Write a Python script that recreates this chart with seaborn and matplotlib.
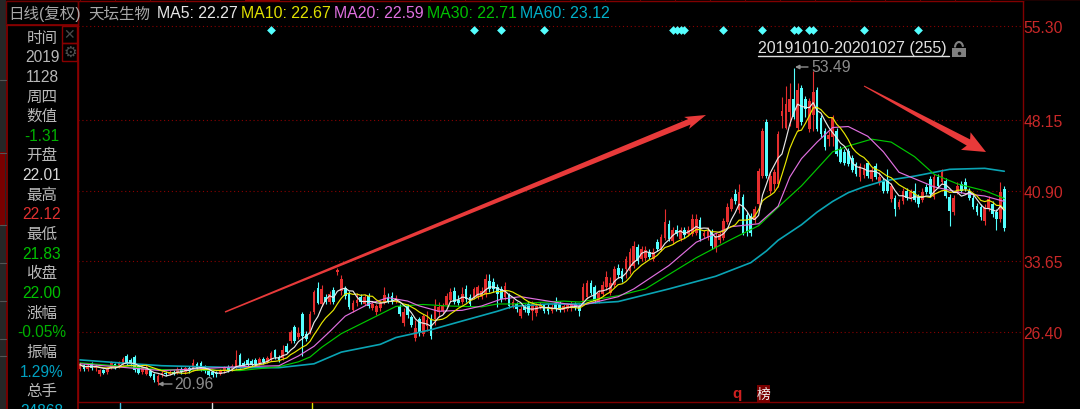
import numpy as np
import pandas as pd
import matplotlib
matplotlib.use("Agg")
import matplotlib.pyplot as plt
from matplotlib.patches import Rectangle, Polygon, Arc
import seaborn as sns

opens = [22.6,23.0,22.6,23.2,22.7,22.0,22.5,22.3,22.8,23.1,
 22.9,23.2,23.9,23.5,23.8,22.9,22.3,22.1,22.4,22.0,
 21.2,21.9,22.2,22.0,22.3,22.2,22.5,22.3,22.7,22.6,
 23.1,23.2,22.8,22.4,22.3,22.2,22.0,22.4,22.7,22.6,
 22.7,24.0,23.2,23.5,23.4,23.5,23.2,23.6,23.3,23.6,
 24.5,23.8,23.7,24.9,25.4,26.9,25.9,28.2,26.2,26.4,
 28.4,30.9,29.3,30.0,29.5,30.7,32.5,30.6,30.9,30.4,
 28.6,29.4,30.0,29.3,30.1,28.8,28.4,28.8,29.5,29.9,
 30.1,29.6,29.0,27.3,29.0,27.9,25.8,27.7,26.2,27.0,
 27.7,27.7,28.4,28.5,29.1,29.7,30.6,29.7,29.5,30.8,
 30.0,30.0,30.0,30.0,30.3,31.6,31.5,31.0,30.8,30.0,
 30.2,29.0,29.3,28.0,28.9,29.3,28.5,28.3,28.9,29.1,
 28.9,28.5,29.4,29.3,28.6,28.7,28.8,29.2,29.0,29.3,
 30.0,31.4,31.0,29.6,30.3,31.0,30.4,31.2,33.0,32.6,
 32.8,32.6,33.2,35.1,33.9,34.0,34.6,33.9,35.6,34.9,
 36.0,37.5,35.7,36.9,35.9,36.9,36.4,36.4,36.6,37.9,
 36.2,36.0,36.7,35.0,35.8,36.0,37.7,39.0,40.6,38.9,
 40.3,38.4,38.3,37.9,39.5,42.4,48.0,40.9,41.6,41.6,
 48.6,47.4,49.0,50.3,47.4,51.5,50.3,47.2,48.7,51.3,
 48.4,47.0,46.2,46.4,47.0,45.2,44.9,45.0,44.3,43.6,
 42.3,42.5,43.7,42.1,43.4,41.8,41.9,41.9,40.0,40.2,
 39.2,39.8,40.9,40.1,40.9,40.3,39.9,41.3,42.1,40.3,
 42.3,41.8,41.9,40.3,38.7,40.8,41.6,41.8,40.9,40.2,
 39.3,39.2,37.8,39.1,39.5,38.7,38.0,41.1]
closes = [23.0,22.6,22.9,22.7,22.9,22.5,22.2,22.6,23.2,22.8,
 23.2,23.6,23.2,23.1,22.5,22.2,22.8,22.8,21.8,21.4,
 21.8,22.2,22.0,22.3,22.1,22.6,22.3,22.7,22.4,23.2,
 22.7,22.6,22.4,21.9,21.9,22.0,22.4,22.7,22.5,22.9,
 23.5,22.9,22.9,23.0,23.0,23.1,23.6,23.3,23.7,24.2,
 23.8,23.5,24.5,24.3,26.4,25.4,26.3,26.0,25.7,28.2,
 30.5,29.4,30.8,29.5,30.3,29.5,32.7,31.8,30.1,28.9,
 29.4,29.7,29.5,30.0,29.0,29.3,29.0,29.4,30.2,29.6,
 29.5,29.9,28.2,28.4,28.1,27.1,26.8,26.4,28.0,27.6,
 26.0,29.0,28.9,29.0,30.1,30.5,29.5,29.4,30.3,29.8,
 29.3,30.8,31.0,30.6,31.8,30.8,30.8,30.3,29.8,31.1,
 29.0,29.5,28.7,28.7,28.6,28.3,29.3,29.0,29.2,28.5,
 28.5,28.9,28.8,28.7,29.0,29.1,29.2,28.9,28.5,31.0,
 31.4,30.4,29.6,30.4,31.2,32.0,31.4,32.8,32.2,31.8,
 33.9,34.6,35.2,33.7,34.9,34.8,34.1,34.6,34.9,36.1,
 37.7,35.9,36.9,36.4,36.9,36.3,36.9,38.0,38.0,35.9,
 36.5,36.8,35.2,36.2,36.4,37.8,39.2,40.0,39.8,40.8,
 36.6,36.8,36.5,39.0,42.9,47.0,42.4,42.4,42.8,46.7,
 49.1,49.8,50.3,48.5,51.3,48.0,49.3,50.1,51.1,47.2,
 46.7,45.4,46.6,48.4,44.7,43.9,43.8,43.6,43.0,42.6,
 43.4,43.2,42.4,43.0,42.3,42.3,40.9,40.9,41.4,39.0,
 39.7,40.9,40.1,40.8,39.9,39.5,40.8,40.8,40.6,42.3,
 41.4,42.8,40.4,38.8,40.2,41.4,40.9,41.1,40.1,39.2,
 38.7,38.2,39.2,40.0,38.5,38.0,40.8,37.1]
highs = [23.3,23.1,23.1,23.3,23.1,22.6,22.6,22.8,23.4,23.2,
 23.4,23.8,24.1,23.7,24.0,23.1,23.0,23.0,22.6,22.2,
 22.0,22.4,22.4,22.5,22.5,22.8,22.8,22.9,22.9,23.6,
 23.3,23.4,23.0,22.6,22.5,22.4,22.6,22.9,23.0,23.1,
 24.5,24.2,23.4,23.7,23.6,23.7,23.8,23.8,23.9,24.4,
 24.6,24.0,25.0,25.2,26.6,27.1,26.9,28.4,26.5,28.5,
 30.7,31.5,31.2,30.3,30.6,31.0,33.0,32.2,31.1,30.6,
 29.7,30.4,30.3,30.3,30.4,29.5,29.3,29.7,31.0,30.4,
 30.5,30.2,29.3,28.8,29.2,28.1,27.6,27.9,28.2,28.5,
 28.2,29.8,29.5,29.4,30.4,30.9,31.0,30.2,31.0,31.2,
 30.3,31.0,31.2,31.0,32.3,32.3,31.9,31.3,31.1,31.5,
 30.4,29.8,29.5,29.0,29.2,29.6,29.6,29.4,29.5,29.3,
 29.2,29.2,30.0,29.6,29.3,29.4,29.6,29.5,29.2,31.4,
 31.7,31.7,31.2,30.7,31.6,32.6,32.0,33.2,33.4,32.9,
 34.2,35.0,35.7,35.4,35.2,35.2,34.9,35.0,35.9,36.4,
 39.0,37.9,37.2,37.4,37.2,37.2,37.3,38.5,38.5,38.2,
 36.9,37.2,37.0,36.5,36.7,38.1,39.6,40.3,41.1,41.6,
 40.6,38.7,38.6,39.3,43.2,47.3,48.3,42.7,43.1,47.0,
 50.5,51.7,52.0,53.49,52.0,51.8,50.6,50.4,53.2,51.6,
 48.7,47.3,47.0,48.7,47.3,45.5,45.2,45.3,44.6,43.9,
 43.7,43.6,44.0,43.3,43.7,42.8,42.2,43.1,41.7,40.5,
 40.0,41.2,41.2,41.1,41.7,40.6,41.2,41.6,42.4,42.6,
 42.6,43.1,42.2,40.6,40.5,41.8,41.9,42.2,41.2,40.5,
 39.6,39.5,39.5,40.4,39.8,39.0,41.8,41.4]
lows = [22.4,22.4,22.4,22.5,22.4,21.8,22.0,22.1,22.6,22.6,
 22.7,23.0,23.0,22.9,22.3,22.1,22.1,21.9,21.7,21.2,
 20.96,21.7,21.8,21.9,21.9,22.0,22.1,22.1,22.2,22.4,
 22.5,22.4,22.2,21.8,21.7,21.7,21.9,22.2,22.3,22.4,
 22.5,22.7,22.7,22.8,22.8,22.9,23.0,23.1,23.2,23.4,
 23.6,23.3,23.5,24.2,25.2,25.2,25.7,23.9,25.4,26.2,
 28.2,29.2,29.0,29.2,29.2,29.3,32.2,30.2,29.8,28.7,
 28.4,29.0,29.3,29.1,28.8,28.6,28.1,28.5,29.2,29.4,
 29.3,29.4,28.0,27.0,27.8,26.9,25.4,26.0,26.0,26.5,
 25.7,27.1,27.9,28.2,28.9,29.5,29.3,29.1,29.2,29.5,
 29.0,29.8,29.8,29.8,30.0,30.5,30.5,28.9,29.5,29.7,
 28.8,28.8,28.4,27.8,28.4,28.1,27.6,28.0,28.7,28.3,
 28.2,28.3,28.5,28.4,28.4,28.5,28.5,28.6,28.0,29.1,
 29.8,30.2,29.4,29.4,30.1,30.7,30.2,31.0,31.9,31.5,
 31.9,32.3,33.0,33.4,33.7,33.7,33.9,33.7,34.7,34.7,
 35.8,35.7,35.4,36.2,35.7,36.0,36.2,36.2,36.3,35.7,
 36.0,35.8,34.9,34.6,35.5,35.8,37.5,38.8,39.5,38.6,
 36.3,36.2,36.2,37.6,39.2,42.2,42.2,40.6,41.0,41.3,
 47.4,47.2,47.6,48.3,47.0,47.7,48.5,46.9,47.0,47.0,
 46.4,45.1,45.5,45.5,44.5,43.7,43.5,43.4,42.8,42.4,
 41.9,42.2,42.2,41.9,42.1,41.5,40.7,40.7,39.7,38.3,
 39.0,39.5,39.9,39.8,39.7,39.2,39.7,40.6,40.3,40.0,
 41.2,41.6,40.2,37.3,38.4,40.6,40.7,40.9,39.9,39.0,
 38.4,37.9,37.4,38.8,38.2,36.9,37.7,36.8]

ma20_days = [0,21,41,51,56,60,64,68,74,79,84,87,92,98,103,108,113,120,128,138,142,151,158,167,174,179,182,185,189,193,197,202,206,210,219,227,232,237]
ma20_vals = [23.1,22.4,22.8,22.9,23.9,24.9,26.4,28.0,29.25,29.9,29.55,29.05,28.5,28.6,29.05,29.75,30.0,29.55,29.05,30.0,30.8,33.2,35.6,37.2,37.5,39.3,42.3,44.2,45.9,47.4,47.5,46.5,44.9,42.8,41.3,40.6,40.35,39.8]
ma30_days = [0,21,41,51,56,59,62,67,73,77,81,88,94,103,107,111,124,128,138,145,158,167,174,179,185,193,197,203,208,214,219,225,232,237]
ma30_vals = [23.2,22.5,22.4,22.8,23.3,23.8,24.8,26.2,27.4,28.2,29.0,29.2,29.05,28.95,29.25,29.25,29.55,29.45,30.1,30.8,34.0,35.9,37.3,39.2,41.4,44.9,45.5,46.2,45.9,44.4,42.6,41.6,40.9,40.1]
ma60_days = [0,10,21,41,51,60,67,77,81,90,98,107,111,120,128,138,151,163,172,176,179,182,185,189,193,197,201,206,214,223,232,237]
ma60_vals = [23.5,23.2,22.9,22.7,22.7,23.1,24.3,25.1,25.8,26.6,27.5,28.5,29.0,29.25,29.25,29.5,30.8,32.1,33.5,34.7,35.8,36.6,37.4,38.7,39.8,40.7,41.3,41.9,42.4,43.1,43.2,42.9]

signal_days = [49,101,108,119,152,153,154,155,165,175,183,184,187,188,201,215]
tick_levels = [57.84,48.15,40.90,33.65,26.40]
tick_labels = ["55.30","48.15","40.90","33.65","26.40"]

header_items = [("MA5: 22.27","#e6e6e6"),("MA10: 22.67","#e0e000"),("MA20: 22.59","#e070e0"),("MA30: 22.71","#00c000"),("MA60: 23.12","#00b0c8")]
panel_labels = ["时间","2019","1128","周四","数值","-1.31","开盘","22.01","最高","22.12","最低","21.83","收盘","22.00","涨幅","-0.05%","振幅","1.29%","总手","24868"]
panel_colors = ["#b8b8b8","#b8b8b8","#b8b8b8","#b8b8b8","#b8b8b8","#00b000","#b8b8b8","#d8d8d8","#b8b8b8","#e03030","#b8b8b8","#00c000","#b8b8b8","#00c000","#b8b8b8","#00b000","#b8b8b8","#00a0c0","#b8b8b8","#00b0d0"]

UP = "#e62e2e"; DOWN = "#54ffff"; FONT = ["Liberation Sans","Noto Sans CJK SC","DejaVu Sans"]
sns.set_theme(style="dark", rc={"axes.facecolor":"black","figure.facecolor":"black"})
plt.rcParams["font.family"] = FONT

W, H = 1080, 410
fig = plt.figure(figsize=(W/100, H/100), dpi=100)
ax = fig.add_axes([78/W, (H-403)/H, 945/W, 401/H])
ax.set_facecolor("black")

days = np.arange(len(closes))
o, c, hi, lo = map(np.asarray, (opens, closes, highs, lows))
colors = np.where(c >= o, UP, DOWN)
ax.vlines(days, lo, hi, colors=colors, lw=.8, zorder=2)
ax.bar(days, np.maximum(np.abs(c-o), .08), bottom=np.minimum(o, c), width=.7, color=colors, lw=0, zorder=2)

close_s = pd.Series(closes)
parts = [
    pd.DataFrame({"day":ma60_days,"price":ma60_vals,"line":"MA60"}),
    pd.DataFrame({"day":ma30_days,"price":ma30_vals,"line":"MA30"}),
    pd.DataFrame({"day":ma20_days,"price":ma20_vals,"line":"MA20"}),
    pd.DataFrame({"day":days,"price":close_s.rolling(10,min_periods=1).mean(),"line":"MA10"}),
    pd.DataFrame({"day":days,"price":close_s.rolling(5,min_periods=1).mean(),"line":"MA5"}),
]
lines = pd.concat(parts, ignore_index=True)
sns.lineplot(data=lines, x="day", y="price", hue="line", size="line", estimator=None, sort=False, legend=False, ax=ax,
             palette={"MA5":"#e8e8e8","MA10":"#e8e800","MA20":"#e070e0","MA30":"#00c800","MA60":"#0aa4b4"},
             sizes={"MA5":.85,"MA10":.85,"MA20":.85,"MA30":.85,"MA60":1.2},
             hue_order=["MA60","MA30","MA20","MA10","MA5"], zorder=3)

sns.scatterplot(x=signal_days, y=[57.4]*len(signal_days), marker="D", s=20, color="#54ffff", lw=0, ax=ax, zorder=4, legend=False)

ax.set_xlim(-0.513, 241.8)
ax.set_ylim(19.17, 60.41)
ax.set_xticks([]); ax.set_xlabel(""); ax.set_ylabel("")
ax.yaxis.tick_right()
ax.set_yticks(tick_levels, tick_labels)
ax.tick_params(axis="y", length=0, pad=0.5, labelcolor="#c82828", labelsize=11.3)
ax.grid(False)
for lv in tick_levels:
    ax.axhline(lv, color="#8a0000", lw=.8, ls=(0,(1,2.5)), zorder=1)
for s in ax.spines.values():
    s.set_color("#800000"); s.set_linewidth(1); s.set_visible(True)

# pixel-space overlay for the terminal chrome
fa = fig.add_axes([0,0,1,1], zorder=5)
fa.set_xlim(0,W); fa.set_ylim(H,0); fa.axis("off"); fa.patch.set_alpha(0)

def txt(x, y, s, color="#b8b8b8", size=11.3, ha="left", **kw):
    fa.text(x, y, s, color=color, fontsize=size, ha=ha, va="center", family=FONT, **kw)

# left strip and top strip
fa.add_patch(Rectangle((0,0),6,H,color="#262626",lw=0))
fa.add_patch(Rectangle((0,153),5,74,color="#7a0000",lw=0))
for yy in (81,154,226,264,302,340,357):
    fa.plot([0,6],[yy,yy],color="#555555",lw=.8)
fa.add_patch(Rectangle((6,0),1074,2,color="#1c0000",lw=0))
for xx in range(80,1023,35):
    fa.plot([xx,xx],[0,2],color="#700000",lw=.8)
fa.add_patch(Rectangle((245,0),35,2,color="#8a0000",lw=0))

# header
fa.add_patch(Rectangle((6,2),72,24,fill=False,ec="#700000",lw=1))
txt(8,14,"日线(复权)",color="#a8a8a8",size=11.2)
txt(88,14,"天坛生物",color="#a8a8a8",size=11.2)
for xh,(s,col) in zip([157,241,334,427,520],header_items):
    txt(xh,14,s,color=col,size=11.4)

# left panel
fa.add_patch(Rectangle((7,26),70.5,H,fill=False,ec="#8a0000",lw=1.2))
fa.add_patch(Rectangle((62,27),15,17,fill=False,ec="#8a0000",lw=1))
fa.add_patch(Rectangle((62,44),15,18,fill=False,ec="#8a0000",lw=1))
txt(69.5,35,"✕",color="#4a4a4a",size=10,ha="center")
txt(70,53,"⚙",color="#505050",size=11,ha="center")
for k,(s,col) in enumerate(zip(panel_labels,panel_colors)):
    txt(42,38+19.65*k,s,color=col,size=11.2,ha="center")

# annotations
fa.annotate("",xy=(795,68),xytext=(808,68),arrowprops=dict(arrowstyle="-|>",color="#909090",lw=1,mutation_scale=6,shrinkA=0,shrinkB=0))
txt(811,68,"53.49",color="#8c8c8c",size=11.3)
fa.annotate("",xy=(158,385),xytext=(172,385),arrowprops=dict(arrowstyle="-|>",color="#909090",lw=1,mutation_scale=6,shrinkA=0,shrinkB=0))
txt(174,385,"20.96",color="#8c8c8c",size=11.3)
txt(758,49,"20191010-20201027 (255)",color="#e0e0e0",size=11.55)
fa.plot([758,949],[56.5,56.5],color="#e0e0e0",lw=1)
fa.add_patch(Rectangle((952,49),14,9,color="#808080",lw=0))
fa.add_patch(Arc((959,48.5),8,11,theta1=180,theta2=350,ec="#808080",lw=1.5))
fa.plot([959],[53.5],"o",ms=1.5,color="#111111")

# red trend arrows
def arrow(x0,y0,x1,y1,w0,w1,hl,hw,col="#e83a3a"):
    a=np.array([x0,y0],float); b=np.array([x1,y1],float)
    u=(b-a)/np.hypot(*(b-a)); n=np.array([-u[1],u[0]])
    neck=b-u*hl
    pts=[a+n*w0/2,neck+n*w1/2,neck+n*hw/2-u*3,b,neck-n*hw/2-u*3,neck-n*w1/2,a-n*w0/2]
    fa.add_patch(Polygon(pts,closed=True,color=col,lw=0))
arrow(225,313,706,116,1.5,6,18,13)
arrow(864,87,986,153,1,7,20,20)

# bottom markers
for xb,col in [(120,"#40c0e0"),(212,"#e0e0e0"),(312,"#e0e000")]:
    fa.plot([xb,xb],[404,410],color=col,lw=1)
txt(737,394,"q",color="#d02020",size=11,ha="center",weight="bold")
fa.add_patch(Rectangle((757,386),13,17,color="#7a0000",lw=0))
txt(763.5,394.5,"榜",color="#f0f0f0",size=10,ha="center")

fig.savefig("out.png", dpi=100, facecolor="black")
